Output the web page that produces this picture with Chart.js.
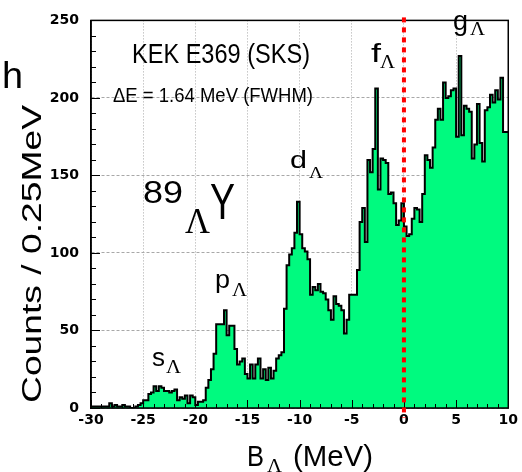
<!DOCTYPE html>
<html>
<head>
<meta charset="utf-8">
<title>89 Lambda Y binding energy spectrum</title>
<script src="https://cdn.jsdelivr.net/npm/chart.js@4.4.1/dist/chart.umd.min.js"></script>
<style>
  html, body { margin: 0; padding: 0; background: #fff; }
  canvas { display: block; }
</style>
</head>
<body>
<canvas id="spectrum" width="522" height="472"></canvas>
<script>
// binning of the spectrum (MeV)
const binStart = -30;
const binWidth = 0.25;

// counts per 0.25 MeV bin, one row per 5 MeV
const counts = [
  1, 1, 1, 1, 1, 1, 1, 1, 3, 1, 2, 1, 1, 2, 1, 1, 0, 0, 1, 2,                                // -30 .. -25
  3, 5, 5, 9, 10, 14, 11, 14, 13, 11, 11, 10, 11, 12, 5, 7, 6, 8, 3, 8,                      // -25 .. -20
  7, 2, 4, 4, 5, 13, 18, 25, 35, 54, 54, 54, 63, 47, 53, 53, 38, 28, 30, 32,                 // -20 .. -15
  22, 19, 28, 19, 28, 32, 19, 25, 18, 26, 19, 24, 32, 34, 36, 64, 92, 99, 103, 113,          // -15 .. -10
  133, 112, 103, 101, 96, 73, 78, 76, 80, 75, 74, 70, 63, 57, 72, 67, 66, 63, 48, 57,        // -10 .. -5
  73, 73, 73, 89, 120, 129, 107, 160, 152, 167, 206, 141, 161, 160, 158, 138, 139, 132, 118, 121, // -5 .. 0
  132, 117, 111, 112, 122, 129, 128, 120, 138, 163, 160, 155, 168, 186, 193, 186, 210, 200, 201, 205, // 0 .. 5
  206, 175, 227, 176, 195, 193, 191, 161, 170, 196, 171, 159, 192, 194, 202, 197, 205, 199, 213, 178  // 5 .. 10
];

// axis ranges and ticks
const xRange = [-30, 10];
const xMajorStep = 5;
const xMinorStep = 1;
const yRange = [0, 250];
const yMajorStep = 50;
const yMinorStep = 10;

// Lambda threshold marker
const thresholdE = 0;

const SANS = '"Liberation Sans", Arial, Helvetica, sans-serif';
const SERIF = '"Liberation Serif", "Times New Roman", serif';
const GREEN = '#00fa7f';

// histogram as step points at the left edge of each bin, plus the closing edge
const steps = counts.map(function(c, i) {
  return { x: binStart + i * binWidth, y: c };
});
steps.push({ x: binStart + counts.length * binWidth, y: counts[counts.length - 1] });

// text drawn squeezed/stretched to a given width
function fitText(ctx, str, x, y, font, width, rotate) {
  ctx.save();
  ctx.font = font;
  const w = ctx.measureText(str).width;
  ctx.translate(x, y);
  if (rotate) ctx.rotate(-Math.PI / 2);
  ctx.scale(width / w, 1);
  ctx.fillStyle = '#000';
  ctx.textBaseline = 'alphabetic';
  ctx.textAlign = 'left';
  ctx.fillText(str, 0, 0);
  ctx.restore();
}

const texts = [
  ['h', 2, 88, '36px ' + SANS, 21],
  ['KEK E369 (SKS)', 132, 63, '28px ' + SANS, 178],
  ['\u0394E = 1.64 MeV (FWHM)', 113, 102, '21px ' + SANS, 200],
  ['89', 143, 203, '31px ' + SANS, 40],
  ['\u039B', 185, 233, '35px ' + SERIF, 25],
  ['Y', 210, 219, '50px ' + SANS, 25],
  ['s', 152, 366, '26px ' + SANS, 13], ['\u039B', 166, 373, '18px ' + SERIF, 15],
  ['p', 215, 288, '26px ' + SANS, 15], ['\u039B', 232, 296, '18px ' + SERIF, 15],
  ['d', 290, 168, '23px ' + SANS, 17], ['\u039B', 309, 178, '17px ' + SERIF, 14],
  ['f', 371, 62, '26px ' + SANS, 10], ['\u039B', 380, 68, '18px ' + SERIF, 15],
  ['g', 453, 30, '28px ' + SANS, 15], ['\u039B', 470, 35, '18px ' + SERIF, 15],
  ['B', 247, 466, '30px ' + SANS, 17], ['\u039B', 267, 472, '18px ' + SERIF, 15],
  ['(MeV)', 293, 466, '30px ' + SANS, 80]
];

const frameAndLabels = {
  id: 'frameAndLabels',
  afterDraw: function(chart) {
    const ctx = chart.ctx;
    const area = chart.chartArea;
    const xs = chart.scales.x;
    const ys = chart.scales.y;

    // inner ticks, ROOT style
    ctx.save();
    ctx.strokeStyle = '#000';
    ctx.lineWidth = 1;
    for (let v = xRange[0]; v <= xRange[1]; v += xMinorStep) {
      const px = Math.round(xs.getPixelForValue(v)) + 0.5;
      const len = v % xMajorStep === 0 ? 8 : 4;
      ctx.beginPath();
      ctx.moveTo(px, area.bottom);
      ctx.lineTo(px, area.bottom - len);
      ctx.stroke();
    }
    for (let v = yRange[0]; v <= yRange[1]; v += yMinorStep) {
      const py = Math.round(ys.getPixelForValue(v)) + 0.5;
      const len = v % yMajorStep === 0 ? 9 : 5;
      ctx.beginPath();
      ctx.moveTo(area.left, py);
      ctx.lineTo(area.left + len, py);
      ctx.stroke();
    }

    // frame
    ctx.lineWidth = 1.5;
    ctx.strokeRect(area.left, area.top, area.right - area.left, area.bottom - area.top);

    // threshold line
    const x0 = xs.getPixelForValue(thresholdE);
    ctx.strokeStyle = '#ff0000';
    ctx.lineWidth = 4;
    ctx.setLineDash([5, 5]);
    ctx.beginPath();
    ctx.moveTo(x0, area.top - 3);
    ctx.lineTo(x0, area.bottom + 10);
    ctx.stroke();
    ctx.restore();

    texts.forEach(function(t) {
      fitText(ctx, t[0], t[1], t[2], t[3], t[4]);
    });
    fitText(ctx, 'Counts / 0.25MeV', 41, 403, '27px ' + SANS, 298, true);
  }
};

new Chart(document.getElementById('spectrum').getContext('2d'), {
  type: 'line',
  data: {
    datasets: [{
      data: steps,
      stepped: 'after',
      fill: 'origin',
      backgroundColor: GREEN,
      borderColor: '#000',
      borderWidth: 2,
      pointRadius: 0,
      tension: 0
    }]
  },
  options: {
    responsive: false,
    animation: false,
    events: [],
    layout: { padding: { top: 6, right: 10, left: 0, bottom: 0 } },
    plugins: {
      legend: { display: false },
      tooltip: { enabled: false }
    },
    scales: {
      x: {
        type: 'linear',
        min: xRange[0],
        max: xRange[1],
        z: 1,
        afterFit: function(scale) { scale.height = 64; },
        // border.dash styles the grid lines in v4
        border: { display: true, color: '#000', width: 1.5, dash: [1, 2] },
        grid: { color: '#a8a8a8', lineWidth: 1, drawTicks: false },
        ticks: {
          stepSize: xMajorStep,
          padding: 4,
          color: '#000',
          maxRotation: 0,
          font: { family: '"DejaVu Sans"', size: 14, weight: 'bold' }
        }
      },
      y: {
        min: yRange[0],
        max: yRange[1],
        z: 1,
        afterFit: function(scale) { scale.width = 91; },
        border: { display: true, color: '#000', width: 1.5, dash: [3, 2] },
        grid: { color: '#a8a8a8', lineWidth: 1, drawTicks: false },
        ticks: {
          stepSize: yMajorStep,
          padding: 12,
          color: '#000',
          font: { family: '"DejaVu Sans"', size: 14, weight: 'bold' }
        }
      }
    }
  },
  plugins: [frameAndLabels]
});
</script>
</body>
</html>
